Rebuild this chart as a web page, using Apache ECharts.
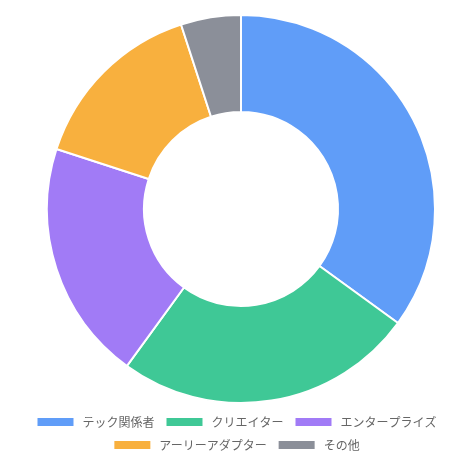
<!DOCTYPE html>
<html>
<head>
<meta charset="utf-8">
<script src="https://cdn.jsdelivr.net/npm/echarts@6/dist/echarts.min.js"></script>
<style>
  html, body { margin: 0; padding: 0; background: #fff; }
  #chart { width: 472px; height: 474px; }
</style>
</head>
<body>
<div id="chart"></div>
<script>
const segments = ['テック関係者', 'クリエイター', 'エンタープライズ', 'アーリーアダプター', 'その他'];
const shares = [35, 25, 20, 15, 5];
const colors = ['#609df8', '#3fc896', '#a17bf6', '#f8b03e', '#8b8f99'];

const legendOptions = {
    left: 'center',
    itemWidth: 38,
    itemHeight: 10,
    itemGap: 10,
    icon: 'rect',
    textStyle: { color: '#666', fontSize: 12, padding: [0, 0, 0, 3] }
};

let chartDom = document.getElementById('chart');
let myChart = echarts.init(chartDom);
let option;

let data = [];
for (let i = 0; i < segments.length; i++) {
    data.push({ name: segments[i], value: shares[i] });
}

option = {
    color: colors,
    textStyle: { fontFamily: '"Noto Sans CJK JP", "Noto Sans", sans-serif' },
    // two rows, each centred on its own
    legend: [
        { ...legendOptions, top: 411, data: segments.slice(0, 3) },
        { ...legendOptions, top: 434, data: segments.slice(3) }
    ],
    series: [
        {
            type: 'pie',
            center: [241, 209],
            radius: [97, 194],
            startAngle: 90,
            clockwise: true,
            label: { show: false },
            labelLine: { show: false },
            itemStyle: { borderColor: '#fff', borderWidth: 2 },
            data
        }
    ]
};

option && myChart.setOption(option);
</script>
</body>
</html>
